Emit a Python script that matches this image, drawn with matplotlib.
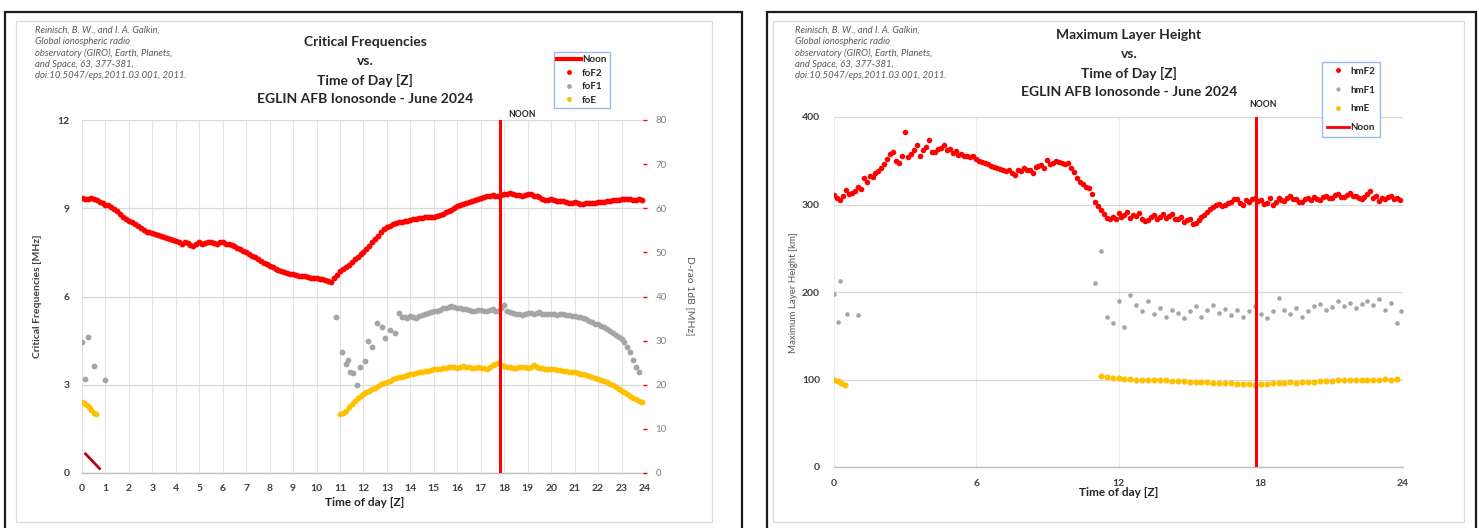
import numpy as np
import matplotlib
matplotlib.use("Agg")
import matplotlib.pyplot as plt
from matplotlib.patches import Rectangle
from matplotlib.lines import Line2D

plt.rcParams['font.family'] = ['Lato', 'DejaVu Sans']

# ---------------- data ----------------
NOON_UT = 17.8

# 7.5-minute grid (UT hours) for the full-day F2 series
hours_fine = np.arange(0, 24, 0.125)

# foF2 [MHz], one row per UT hour
foF2 = [9.35, 9.33, 9.30, 9.34, 9.32, 9.28, 9.22, 9.18,
        9.12, 9.10, 9.05, 8.98, 8.92, 8.82, 8.70, 8.62,
        8.55, 8.52, 8.48, 8.40, 8.32, 8.25, 8.20, 8.18,
        8.15, 8.12, 8.08, 8.05, 8.02, 7.98, 7.95, 7.92,
        7.90, 7.86, 7.80, 7.84, 7.82, 7.76, 7.72, 7.78,
        7.85, 7.80, 7.82, 7.86, 7.86, 7.83, 7.80, 7.85,
        7.84, 7.80, 7.78, 7.74, 7.70, 7.66, 7.62, 7.56,
        7.50, 7.44, 7.38, 7.34, 7.28, 7.20, 7.15, 7.10,
        7.05, 7.00, 6.95, 6.90, 6.85, 6.82, 6.80, 6.78,
        6.76, 6.73, 6.70, 6.70, 6.68, 6.66, 6.64, 6.63,
        6.62, 6.60, 6.58, 6.55, 6.52, 6.50, 6.62, 6.72,
        6.85, 6.92, 7.00, 7.08, 7.18, 7.26, 7.35, 7.44,
        7.52, 7.62, 7.72, 7.84, 7.95, 8.06, 8.18, 8.28,
        8.35, 8.40, 8.45, 8.50, 8.52, 8.54, 8.55, 8.58,
        8.60, 8.62, 8.64, 8.66, 8.68, 8.69, 8.70, 8.70,
        8.70, 8.74, 8.78, 8.82, 8.86, 8.90, 8.95, 9.00,
        9.06, 9.10, 9.15, 9.18, 9.22, 9.25, 9.28, 9.32,
        9.35, 9.38, 9.40, 9.43, 9.45, 9.40, 9.42, 9.46,
        9.48, 9.50, 9.52, 9.48, 9.45, 9.44, 9.42, 9.46,
        9.50, 9.47, 9.42, 9.40, 9.38, 9.32, 9.28, 9.29,
        9.30, 9.28, 9.26, 9.25, 9.24, 9.20, 9.18, 9.19,
        9.20, 9.17, 9.16, 9.15, 9.17, 9.18, 9.18, 9.19,
        9.20, 9.21, 9.22, 9.24, 9.25, 9.27, 9.28, 9.29,
        9.30, 9.32, 9.33, 9.30, 9.27, 9.29, 9.30, 9.28]

# foF1 [MHz]: night-time and morning scattered soundings
foF1_sparse_hours = [0.00, 0.25, 0.12, 0.50, 1.00,
                     10.83, 11.08, 11.25, 11.35, 11.43, 11.56, 11.73, 11.85,
                     12.07, 12.20, 12.37, 12.58, 12.79, 12.92, 13.13, 13.35]
foF1_sparse = [4.45, 4.62, 3.20, 3.65, 3.15,
               5.31, 4.12, 3.70, 3.84, 3.44, 3.40, 3.00, 3.60,
               3.80, 4.50, 4.30, 5.10, 4.97, 4.60, 4.86, 4.76]
# foF1 [MHz]: regular daytime band, 13:30 to 23:45 every 7.5 min
foF1_band_hours = np.arange(13.5, 23.76, 0.125)
foF1_band = [5.43, 5.30, 5.32, 5.26,
             5.35, 5.30, 5.28, 5.34, 5.38, 5.40, 5.45, 5.48,
             5.52, 5.50, 5.55, 5.60, 5.62, 5.65, 5.68, 5.64,
             5.62, 5.60, 5.58, 5.56, 5.55, 5.52, 5.50, 5.54,
             5.55, 5.52, 5.50, 5.54, 5.56, 5.50, 5.52, 5.60,
             5.72, 5.50, 5.48, 5.45, 5.42, 5.40, 5.38, 5.42,
             5.45, 5.43, 5.42, 5.44, 5.46, 5.42, 5.40, 5.41,
             5.42, 5.40, 5.38, 5.39, 5.40, 5.38, 5.36, 5.35,
             5.33, 5.32, 5.30, 5.26, 5.22, 5.17, 5.12, 5.08,
             5.05, 5.00, 4.95, 4.88, 4.82, 4.75, 4.68, 4.62,
             4.55, 4.45, 4.30, 4.10, 3.85, 3.62, 3.45]

# foE [MHz]
foE_night_hours = [0.00, 0.10, 0.20, 0.30, 0.40, 0.50, 0.58]
foE_night = [2.40, 2.38, 2.30, 2.25, 2.15, 2.05, 2.00]
foE_day_hours = np.arange(11.0, 23.9, 0.125)
foE_day = [2.00, 2.05, 2.12, 2.24, 2.35, 2.45, 2.55, 2.62,
           2.70, 2.75, 2.80, 2.85, 2.90, 2.96, 3.02, 3.06,
           3.10, 3.14, 3.18, 3.22, 3.25, 3.28, 3.30, 3.33,
           3.35, 3.38, 3.40, 3.42, 3.44, 3.46, 3.48, 3.50,
           3.52, 3.54, 3.55, 3.57, 3.58, 3.60, 3.62, 3.60,
           3.58, 3.62, 3.64, 3.61, 3.60, 3.58, 3.56, 3.60,
           3.58, 3.56, 3.55, 3.60, 3.66, 3.70, 3.74, 3.68,
           3.65, 3.62, 3.60, 3.58, 3.56, 3.60, 3.62, 3.60,
           3.58, 3.62, 3.66, 3.60, 3.56, 3.57, 3.55, 3.55,
           3.54, 3.52, 3.50, 3.49, 3.48, 3.46, 3.45, 3.44,
           3.42, 3.40, 3.38, 3.35, 3.32, 3.29, 3.26, 3.23,
           3.20, 3.16, 3.12, 3.08, 3.04, 2.98, 2.92, 2.86,
           2.80, 2.74, 2.68, 2.62, 2.56, 2.50, 2.45, 2.42]

# short "Noon" series segment near the origin of the left chart
noon_seg_hours = [0.15, 0.75]
noon_seg_vals = [0.65, 0.15]

# hmF2 [km], one row per UT hour (7.5-minute cadence)
hmF2 = [311, 308, 305, 310, 317, 312, 313, 316,
        320, 318, 330, 326, 333, 331, 336, 338,
        342, 346, 352, 358, 360, 350, 347, 356,
        383, 354, 358, 362, 368, 355, 362, 366,
        374, 360, 360, 363, 365, 368, 362, 364,
        359, 361, 357, 358, 356, 355, 354, 356,
        352, 350, 349, 348, 346, 344, 343, 342,
        341, 339, 338, 340, 336, 334, 340, 338,
        342, 340, 339, 336, 343, 344, 345, 342,
        351, 346, 347, 350, 349, 347, 346, 348,
        342, 337, 330, 326, 324, 320, 319, 312,
        303, 298, 294, 289, 285, 283, 286, 284,
        290, 286, 288, 291, 285, 288, 287, 290,
        284, 281, 282, 286, 288, 284, 286, 289,
        285, 287, 289, 284, 283, 286, 280, 282,
        283, 278, 279, 282, 286, 288, 291, 295,
        297, 300, 301, 298, 299, 302, 303, 306,
        306, 302, 300, 305, 303, 306, 308, 304,
        305, 301, 302, 307, 300, 303, 308, 305,
        304, 307, 310, 306, 306, 303, 303, 306,
        307, 305, 309, 306, 305, 309, 310, 307,
        308, 311, 312, 309, 309, 311, 313, 310,
        310, 307, 306, 309, 312, 315, 308, 310,
        304, 307, 306, 309, 310, 306, 307, 305]

hmF1_hours = [0.00, 0.17, 0.25, 0.55, 1.00,
              11.00, 11.25, 11.50, 11.75, 12.00, 12.25, 12.50, 12.75, 13.00, 13.25,
              13.50, 13.75, 14.00, 14.25, 14.50, 14.75, 15.00, 15.25, 15.50, 15.75,
              16.00, 16.25, 16.50, 16.75, 17.00, 17.25, 17.50, 17.75, 18.00, 18.25,
              18.50, 18.75, 19.00, 19.25, 19.50, 19.75, 20.00, 20.25, 20.50, 20.75,
              21.00, 21.25, 21.50, 21.75, 22.00, 22.25, 22.50, 22.75, 23.00, 23.25,
              23.50, 23.75, 23.90]
hmF1 = [198, 166, 213, 175, 174,
        210, 247, 172, 165, 190, 160, 197, 185, 178, 190,
        175, 182, 172, 180, 176, 170, 178, 184, 172, 180,
        185, 176, 181, 174, 180, 172, 178, 184, 175, 170,
        178, 193, 180, 175, 182, 172, 178, 184, 186, 180,
        183, 190, 184, 188, 182, 186, 190, 185, 192, 180,
        187, 165, 178]

hmE_hours = [0.00, 0.15, 0.30, 0.45,
             11.25, 11.50, 11.75, 12.00, 12.25, 12.50, 12.75, 13.00, 13.25, 13.50,
             13.75, 14.00, 14.25, 14.50, 14.75, 15.00, 15.25, 15.50, 15.75, 16.00,
             16.25, 16.50, 16.75, 17.00, 17.25, 17.50, 17.75, 18.00, 18.25, 18.50,
             18.75, 19.00, 19.25, 19.50, 19.75, 20.00, 20.25, 20.50, 20.75, 21.00,
             21.25, 21.50, 21.75, 22.00, 22.25, 22.50, 22.75, 23.00, 23.25, 23.50,
             23.75]
hmE = [100, 98, 96, 94,
       104, 103, 102, 102, 101, 101, 100, 100, 100, 99,
       99, 99, 98, 98, 98, 97, 97, 97, 97, 96,
       96, 96, 96, 95, 95, 95, 94, 95, 95, 96,
       96, 96, 97, 96, 97, 97, 97, 98, 98, 98,
       99, 99, 99, 99, 100, 100, 100, 100, 101, 100,
       101]

citation = ["Reinisch, B. W., and I. A. Galkin,",
            "Global ionospheric radio",
            "observatory (GIRO), Earth, Planets,",
            "and Space, 63, 377-381,",
            "doi:10.5047/eps.2011.03.001, 2011."]

left_title = ["Critical Frequencies", "vs.", "Time of Day [Z]",
              "EGLIN AFB Ionosonde - June 2024"]
right_title = ["Maximum Layer Height", "vs.", "Time of Day [Z]",
               "EGLIN AFB Ionosonde - June 2024"]

# ---------------- styling ----------------
RED = '#ff0000'
GRAY = '#a5a5a5'
ORANGE = '#ffc000'
DARKRED = '#c0001a'
TXT = '#404040'
GRID = '#d9d9d9'

W, H = 1479, 528


def fx(px):
    return px / W


def fy(py):
    return 1 - py / H


fig = plt.figure(figsize=(W / 100, H / 100), dpi=100)
fig.patch.set_facecolor('white')

# outer black frames and inner chart-area boxes
for x0, x1 in [(5, 742), (767, 1476)]:
    fig.patches.append(Rectangle((fx(x0), fy(540)), fx(x1) - fx(x0), fy(12) - fy(540),
                                 transform=fig.transFigure, fill=False,
                                 ec='#1a1a1a', lw=1.6))
for x0, x1 in [(16, 712), (773, 1464)]:
    fig.patches.append(Rectangle((fx(x0), fy(522)), fx(x1) - fx(x0), fy(21) - fy(522),
                                 transform=fig.transFigure, fill=False,
                                 ec='#dcdcdc', lw=1.0))

# citation blocks
for cx, cy0 in [(35, 30), (795, 30)]:
    for i, line in enumerate(citation):
        fig.text(fx(cx), fy(cy0 + 11.5 * i), line, fontsize=6.8, style='italic',
                 color='#595959', ha='left', va='center')

# titles
for cx, ys, lines in [(365, [42, 61, 80, 99], left_title),
                      (1129, [35, 54, 73, 92], right_title)]:
    for y, line in zip(ys, lines):
        fig.text(fx(cx), fy(y), line, fontsize=10, fontweight='bold',
                 color='#262626', ha='center', va='center')


def style_axis(ax):
    for s in ['top', 'left', 'right']:
        ax.spines[s].set_visible(False)
    ax.spines['bottom'].set_color('#bfbfbf')
    ax.spines['bottom'].set_linewidth(1.0)
    ax.tick_params(axis='both', length=0, labelsize=7.5, labelcolor=TXT)
    for lab in ax.get_xticklabels() + ax.get_yticklabels():
        lab.set_fontweight('bold')
    ax.set_axisbelow(True)


# ---------------- left chart: critical frequencies ----------------
axL = fig.add_axes([fx(82), fy(473), fx(645) - fx(82), fy(120) - fy(473)])
axL.set_xlim(0, 24)
axL.set_ylim(0, 12)
axL.set_xticks(np.arange(0, 25, 1))
axL.set_yticks(np.arange(0, 13, 3))
axL.grid(axis='y', color=GRID, lw=0.9)
axL.grid(axis='x', color='#e4e4e4', lw=0.8)
axL.tick_params(axis='y', pad=9)
axL.tick_params(axis='x', pad=8)
style_axis(axL)

MS = 4.2
axL.plot(hours_fine, foF2, 'o', color=RED, ms=MS, mec='none', zorder=3)
axL.plot(foF1_sparse_hours, foF1_sparse, 'o', color=GRAY, ms=MS, mec='none', zorder=3)
axL.plot(foF1_band_hours, foF1_band, 'o', color=GRAY, ms=MS, mec='none', zorder=3)
axL.plot(foE_night_hours, foE_night, 'o', color=ORANGE, ms=MS, mec='none', zorder=3)
axL.plot(foE_day_hours, foE_day, 'o', color=ORANGE, ms=MS, mec='none', zorder=3)
axL.plot(noon_seg_hours, noon_seg_vals, '-', color=DARKRED, lw=2.0, zorder=3)
axL.axvline(NOON_UT, color=RED, lw=2.2, zorder=4)
axL.annotate('NOON', xy=(NOON_UT, 1.0), xycoords=('data', 'axes fraction'),
             xytext=(6, 4), textcoords='offset points', ha='left', va='center',
             fontsize=6.2, fontweight='bold', color='#262626')

axL2 = axL.twinx()
axL2.set_ylim(0, 80)
axL2.set_yticks(np.arange(0, 81, 10))
for s in ['top', 'left', 'right', 'bottom']:
    axL2.spines[s].set_visible(False)
axL2.tick_params(axis='y', direction='inout', length=3, width=1.0, color=RED,
                 labelsize=7, labelcolor='#7f7f7f', pad=6)

fig.text(fx(38), fy(296), 'Critical Frequencies [MHz]', rotation=90,
         fontsize=7.5, fontweight='bold', color=TXT, ha='center', va='center')
fig.text(fx(690), fy(296), 'D-rao 1dB [MHz]', rotation=270,
         fontsize=7.5, color='#595959', ha='center', va='center')
fig.text(fx(365), fy(502), 'Time of day [Z]', fontsize=8.5, fontweight='bold',
         color='#262626', ha='center', va='center')

legL = [Line2D([], [], color=RED, lw=3, label='Noon'),
        Line2D([], [], ls='none', marker='o', ms=3.5, color=RED, mec='none', label='foF2'),
        Line2D([], [], ls='none', marker='o', ms=3.5, color=GRAY, mec='none', label='foF1'),
        Line2D([], [], ls='none', marker='o', ms=3.5, color=ORANGE, mec='none', label='foE')]
lg = fig.legend(handles=legL, loc='upper left', bbox_to_anchor=(fx(554), fy(52)),
                prop={'weight': 'bold', 'size': 7}, frameon=True,
                fancybox=False, edgecolor='#9dbbe6', handlelength=2.4,
                handletextpad=0.15, labelspacing=0.45, borderpad=0.35,
                borderaxespad=0, framealpha=1)
lg.get_frame().set_linewidth(1.0)
for t in lg.get_texts():
    t.set_color('#262626')

# ---------------- right chart: maximum layer height ----------------
axR = fig.add_axes([fx(834), fy(467), fx(1403) - fx(834), fy(117) - fy(467)])
axR.set_xlim(0, 24)
axR.set_ylim(0, 400)
axR.set_xticks(np.arange(0, 25, 6))
axR.set_yticks(np.arange(0, 401, 100))
axR.grid(axis='y', color=GRID, lw=0.9)
axR.grid(axis='x', color='#ececec', lw=0.8)
axR.tick_params(axis='y', pad=10)
axR.tick_params(axis='x', pad=9)
style_axis(axR)

axR.plot(hours_fine, hmF2, 'o', color=RED, ms=4.0, mec='none', zorder=3)
axR.plot(hmF1_hours, hmF1, 'o', color=GRAY, ms=3.3, mec='none', zorder=3)
axR.plot(hmE_hours, hmE, 'o', color=ORANGE, ms=4.4, mec='none', zorder=3)
axR.axvline(NOON_UT, color=RED, lw=2.2, zorder=4)
axR.annotate('NOON', xy=(NOON_UT, 1.0), xycoords=('data', 'axes fraction'),
             xytext=(5, 9), textcoords='offset points', ha='center', va='center',
             fontsize=6.2, fontweight='bold', color='#262626')

fig.text(fx(793), fy(293), 'Maximum Layer Height [km]', rotation=90,
         fontsize=7, color='#595959', ha='center', va='center')
fig.text(fx(1119), fy(493), 'Time of day [Z]', fontsize=8.5, fontweight='bold',
         color='#262626', ha='center', va='center')

legR = [Line2D([], [], ls='none', marker='o', ms=3.5, color=RED, mec='none', label='hmF2'),
        Line2D([], [], ls='none', marker='o', ms=3.0, color=GRAY, mec='none', label='hmF1'),
        Line2D([], [], ls='none', marker='o', ms=3.5, color=ORANGE, mec='none', label='hmE'),
        Line2D([], [], color=RED, lw=2, label='Noon')]
lg2 = fig.legend(handles=legR, loc='upper left', bbox_to_anchor=(fx(1322), fy(62)),
                 prop={'weight': 'bold', 'size': 7}, frameon=True,
                 fancybox=False, edgecolor='#9dbbe6', handlelength=2.3,
                 handletextpad=0.15, labelspacing=1.0, borderpad=0.5,
                 borderaxespad=0, framealpha=1)
lg2.get_frame().set_linewidth(1.0)
for t in lg2.get_texts():
    t.set_color('#262626')

fig.savefig('out.png', dpi=100, facecolor='white')
